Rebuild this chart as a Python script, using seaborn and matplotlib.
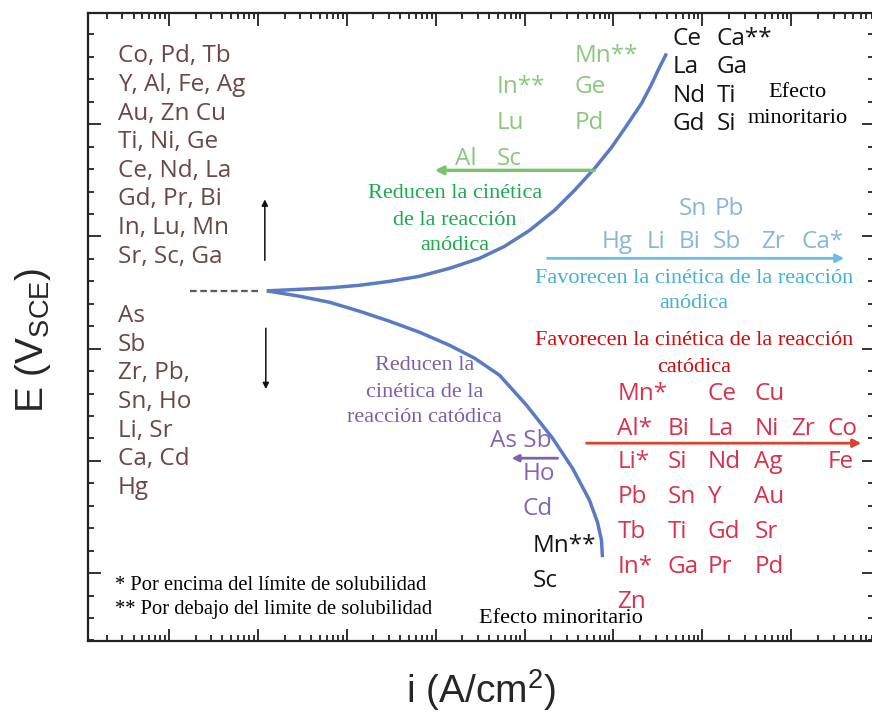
import numpy as np
import pandas as pd
import matplotlib
matplotlib.use("Agg")
import matplotlib.pyplot as plt
import seaborn as sns
from matplotlib.ticker import LogLocator, MultipleLocator, NullFormatter

# ---------------------------------------------------------------- data
# Polarisation branches, in (log10 i, E) units
anodic_logi = [1.101, 1.472, 1.809, 2.146, 2.483, 2.820, 3.157, 3.494, 3.775,
               4.056, 4.337, 4.562, 4.787, 4.978, 5.157, 5.315, 5.427, 5.517, 5.596]
anodic_E = [2.515, 2.529, 2.542, 2.565, 2.600, 2.645, 2.716, 2.805, 2.912,
            3.054, 3.233, 3.411, 3.606, 3.793, 3.998, 4.185, 4.354, 4.506, 4.630]
cathodic_logi = [1.101, 1.472, 1.809, 2.146, 2.483, 2.820, 3.157, 3.438,
                 3.719, 4.022, 4.315, 4.539, 4.730, 4.820, 4.865, 4.876]
cathodic_E = [2.515, 2.467, 2.413, 2.333, 2.244, 2.146, 2.030, 1.915,
              1.763, 1.496, 1.202, 0.935, 0.650, 0.454, 0.294, 0.142]

# Elements that raise / lower the corrosion potential
raise_ecorr = ["Co, Pd, Tb", "Y, Al, Fe, Ag", "Au, Zn Cu", "Ti, Ni, Ge",
               "Ce, Nd, La", "Gd, Pr, Bi", "In, Lu, Mn", "Sr, Sc, Ga"]
lower_ecorr = ["As", "Sb", "Zr, Pb,", "Sn, Ho", "Li, Sr", "Ca, Cd", "Hg"]

# Anodic kinetics reduced (green)
anodic_slow = [[None, None, "Mn**"],
               [None, "In**", "Ge"],
               [None, "Lu", "Pd"],
               ["Al", "Sc", None]]
# Minor effect on the anodic branch (black)
anodic_minor = [["Ce", "Ca**"], ["La", "Ga"], ["Nd", "Ti"], ["Gd", "Si"]]
# Anodic kinetics favoured (blue)
anodic_fast_top = ["Sn", "Pb"]
anodic_fast = ["Hg", "Li", "Bi", "Sb", "Zr", "Ca*"]
# Cathodic kinetics favoured (red)
cathodic_fast = [["Mn*", None, "Ce", "Cu", None, None],
                 ["Al*", "Bi", "La", "Ni", "Zr", "Co"],
                 ["Li*", "Si", "Nd", "Ag", None, "Fe"],
                 ["Pb", "Sn", "Y", "Au", None, None],
                 ["Tb", "Ti", "Gd", "Sr", None, None],
                 ["In*", "Ga", "Pr", "Pd", None, None],
                 ["Zn", None, None, None, None, None]]
# Cathodic kinetics reduced (purple) and minor effect (black)
cathodic_slow = ["As Sb", "Ho", "Cd"]
cathodic_minor = ["Mn**", "Sc"]

# ---------------------------------------------------------------- style
sns.set_theme(style="ticks")
plt.rcParams["font.family"] = ["Open Sans", "DejaVu Sans"]
plt.rcParams["mathtext.fontset"] = "custom"
plt.rcParams["mathtext.rm"] = "Liberation Sans"
plt.rcParams["mathtext.it"] = "Liberation Sans:italic"

SANS = ["Open Sans", "DejaVu Sans"]
SERIF = ["Liberation Serif", "DejaVu Serif"]
LBL = 17.5
SRF = 16

C_CURVE = "#5a7bc2"
C_BROWN = "#6a4646"
C_GREEN_L = "#8bc77c"
C_GREEN = "#1aab4c"
C_BLUE_L = "#86b7d8"
C_BLUE = "#45b0d2"
C_RED_L = "#d8324c"
C_RED = "#d20a0a"
C_PURPLE = "#7c5eaa"
C_BLACK = "#151515"

fig = plt.figure(figsize=(8.72, 7.16), dpi=100)
ax = fig.add_axes([0.1009, 0.1047, 0.9014, 0.877])

curves = pd.DataFrame({
    "i": np.power(10.0, anodic_logi + cathodic_logi),
    "E": anodic_E + cathodic_E,
    "branch": ["anodic"] * len(anodic_logi) + ["cathodic"] * len(cathodic_logi),
})
sns.lineplot(data=curves, x="i", y="E", units="branch", estimator=None,
             sort=False, color=C_CURVE, lw=2.5, ax=ax, legend=False,
             solid_joinstyle="round", solid_capstyle="butt")

# open-circuit level
ax.plot([10 ** 0.236, 10 ** 1.03], [2.515, 2.515], color="#5a5a5a",
        lw=1.6, ls=(0, (3.0, 1.6)))


def put(d, e, s, **kw):
    ax.text(10 ** d, e, s, va="baseline", **kw)


def arrow(d0, e0, d1, e1, color, lw, ms):
    ax.annotate("", xy=(10 ** d1, e1), xytext=(10 ** d0, e0),
                arrowprops=dict(arrowstyle="-|>", color=color, lw=lw,
                                mutation_scale=ms, shrinkA=0, shrinkB=0))


# left columns
for k, s in enumerate(raise_ecorr):
    put(-0.573, 4.55 - 0.2547 * k, s, color=C_BROWN, fontsize=LBL, family=SANS)
for k, s in enumerate(lower_ecorr):
    put(-0.573, 2.235 - 0.2547 * k, s, color=C_BROWN, fontsize=LBL, family=SANS)
arrow(1.079, 2.787, 1.079, 3.33, "#111111", 1.1, 9)
arrow(1.09, 2.182, 1.09, 1.64, "#111111", 1.1, 9)

# green block
g_cols = [3.213, 3.685, 4.56]
g_rows = [4.55, 4.274, 3.96, 3.633]
for r, row in enumerate(anodic_slow):
    for c, s in enumerate(row):
        if s:
            put(g_cols[c], g_rows[r], s, color=C_GREEN_L, fontsize=LBL, family=SANS)
arrow(4.787, 3.589, 2.989, 3.589, "#7cc46c", 2.4, 12)
for s, e in zip(["Reducen la cinética", "de la reacción", "anódica"],
                [3.339, 3.099, 2.876]):
    put(3.219, e, s, ha="center", color=C_GREEN, fontsize=SRF, family=SERIF)

# black block, upper right
k_cols = [5.663, 6.157]
k_rows = [4.702, 4.452, 4.194, 3.945]
for r, row in enumerate(anodic_minor):
    for c, s in enumerate(row):
        put(k_cols[c], k_rows[r], s, color=C_BLACK, fontsize=LBL, family=SANS)
put(7.067, 4.239, "Efecto", ha="center", color="black", fontsize=SRF, family=SERIF)
put(7.067, 4.007, "minoritario", ha="center", color="black", fontsize=SRF, family=SERIF)

# blue block
for s, d in zip(anodic_fast_top, [5.730, 6.135]):
    put(d, 3.188, s, color=C_BLUE_L, fontsize=LBL, family=SANS)
for s, d in zip(anodic_fast, [4.865, 5.371, 5.730, 6.112, 6.663, 7.112]):
    put(d, 2.894, s, color=C_BLUE_L, fontsize=LBL, family=SANS)
arrow(4.258, 2.805, 7.596, 2.805, "#6fbde0", 2.0, 12)
put(5.904, 2.582, "Favorecen la cinética de la reacción", ha="center",
    color=C_BLUE, fontsize=SRF, family=SERIF)
put(5.904, 2.36, "anódica", ha="center", color=C_BLUE, fontsize=SRF, family=SERIF)

# red block
put(5.904, 2.03, "Favorecen la cinética de la reacción", ha="center",
    color=C_RED, fontsize=SRF, family=SERIF)
put(5.904, 1.79, "catódica", ha="center", color=C_RED, fontsize=SRF, family=SERIF)
r_cols = [5.045, 5.607, 6.056, 6.584, 7.0, 7.404]
r_rows = [1.54, 1.229, 0.935, 0.623, 0.312, 0.0, -0.312]
for r, row in enumerate(cathodic_fast):
    for c, s in enumerate(row):
        if s:
            put(r_cols[c], r_rows[r], s, color=C_RED_L, fontsize=LBL, family=SANS)
arrow(4.697, 1.158, 7.787, 1.158, "#d9432f", 2.0, 12)

# purple block
for s, e in zip(["Reducen la", "cinética de la", "reacción catódica"],
                [1.808, 1.567, 1.345]):
    put(2.876, e, s, ha="center", color=C_PURPLE, fontsize=SRF, family=SERIF)
for s, d, e in zip(cathodic_slow, [3.607, 3.978, 3.978], [1.122, 0.828, 0.516]):
    put(d, e, s, color="#8466b0", fontsize=LBL, family=SANS)
arrow(4.371, 1.024, 3.854, 1.024, "#7f62ad", 2.0, 10)

# black block, lower
for s, e in zip(cathodic_minor, [0.187, -0.125]):
    put(4.09, e, s, color=C_BLACK, fontsize=LBL, family=SANS)
put(3.483, -0.445, "Efecto minoritario", color="black", fontsize=SRF, family=SERIF)

# footnotes
put(-0.607, -0.151, "* Por encima del límite de solubilidad", color="black",
    fontsize=14.8, family=SERIF)
put(-0.607, -0.365, "** Por debajo del limite de solubilidad", color="black",
    fontsize=14.8, family=SERIF)

# ---------------------------------------------------------------- axes
ax.set_xscale("log")
ax.set_xlim(10 ** -0.91, 10 ** 7.93)
ax.set_ylim(-0.605, 4.99)
ax.xaxis.set_major_locator(LogLocator(base=10, numticks=20))
ax.xaxis.set_minor_locator(LogLocator(base=10, subs=np.arange(2, 10), numticks=20))
ax.xaxis.set_major_formatter(NullFormatter())
ax.xaxis.set_minor_formatter(NullFormatter())
ax.yaxis.set_major_locator(MultipleLocator(1))
ax.yaxis.set_minor_locator(MultipleLocator(0.2))
ax.yaxis.set_major_formatter(NullFormatter())
ax.tick_params(which="both", direction="in", top=True, right=True,
               color="#222222", width=1.3)
ax.tick_params(which="major", length=9)
ax.tick_params(which="minor", length=4.5)
for sp in ax.spines.values():
    sp.set_linewidth(1.6)
    sp.set_color("#222222")

ax.set_xlabel(r"i (A/cm$^{2}$)", fontsize=28, family=["Liberation Sans"], labelpad=15)
ax.set_ylabel(r"E (V$_{\mathrm{SCE}}$)", fontsize=28, family=["Liberation Sans"])
ax.yaxis.set_label_coords(-0.045, 0.479)

fig.savefig("out.png", dpi=100)
